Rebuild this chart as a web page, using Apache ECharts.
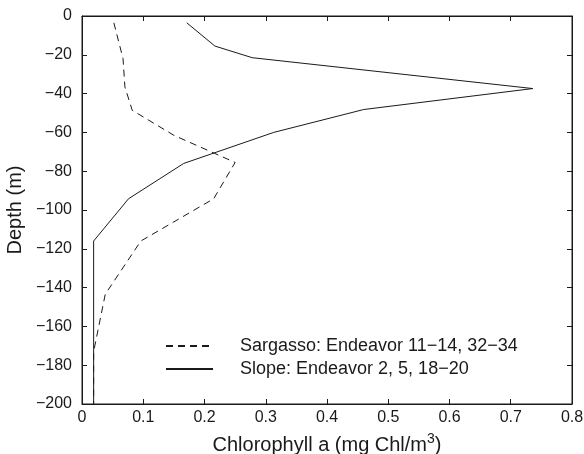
<!DOCTYPE html>
<html>
<head>
<meta charset="utf-8">
<script src="https://cdn.jsdelivr.net/npm/echarts@6/dist/echarts.min.js"></script>
<style>
  html, body { margin: 0; padding: 0; background: #fff; }
  #chart { width: 584px; height: 454px; }
</style>
</head>
<body>
<div id="chart"></div>
<script>
// Chlorophyll profiles, depth in metres (negative downward)
const sargassoDepth = [-3.5, -22, -36.5, -48.6, -61.5, -75.5, -94.2, -116, -143.4, -173, -200];
const sargassoChl   = [0.052, 0.067, 0.070, 0.082, 0.150, 0.250, 0.215, 0.096, 0.038, 0.019, 0.019];

const slopeDepth = [-3.5, -15.5, -21.5, -37.4, -48.2, -60, -76, -94.2, -116, -200];
const slopeChl   = [0.171, 0.217, 0.278, 0.736, 0.460, 0.313, 0.166, 0.076, 0.019, 0.019];

const seriesNames = ['Sargasso: Endeavor 11\u221214, 32\u221234', 'Slope: Endeavor 2, 5, 18\u221220'];

const xTicks = { min: 0, max: 0.8, interval: 0.1 };
const yTicks = { min: -200, max: 0, interval: 20 };

const FONT = 'Liberation Sans, Arial, Helvetica, sans-serif';
const INK = '#1a1a1a';

function pairs(xs, ys) { return xs.map((x, i) => [x, ys[i]]); }

// Unlabelled axis used to put inward ticks on the top and right frame edges
function mirrorAxis(position, range) {
  return {
    type: 'value', position: position, show: true,
    min: range.min, max: range.max, interval: range.interval,
    axisLine: { show: true, onZero: false, lineStyle: { color: INK, width: 1 } },
    axisTick: { show: true, inside: true, length: 5, lineStyle: { color: INK } },
    axisLabel: { show: false },
    splitLine: { show: false }
  };
}

const chart = echarts.init(document.getElementById('chart'), null, { renderer: 'canvas' });

chart.setOption({
  animation: false,
  backgroundColor: '#fff',
  grid: {
    left: 82, right: 12, top: 16, bottom: 50,
    containLabel: false, outerBoundsMode: 'none',
    show: true, borderColor: INK, borderWidth: 1, backgroundColor: 'transparent'
  },
  legend: {
    orient: 'vertical',
    left: 160,
    top: 332,
    itemWidth: 47,
    itemHeight: 14,
    itemGap: 5,
    itemStyle: { opacity: 0 },
    textStyle: { fontFamily: FONT, fontSize: 18, color: INK, padding: [0, 0, 0, 22] },
    data: seriesNames
  },
  xAxis: [
    {
      type: 'value', position: 'bottom',
      min: xTicks.min, max: xTicks.max, interval: xTicks.interval,
      name: '{t|Chlorophyll a (mg Chl/m}{s|3}{t|)}',
      nameLocation: 'middle', nameGap: 28,
      nameTextStyle: {
        rich: {
          t: { fontFamily: FONT, fontSize: 20, color: INK },
          s: { fontFamily: FONT, fontSize: 14, color: INK, padding: [0, 0, 12, 0] }
        }
      },
      axisLine: { show: true, onZero: false, lineStyle: { color: INK, width: 1 } },
      axisTick: { show: true, inside: true, length: 5, lineStyle: { color: INK } },
      axisLabel: {
        fontFamily: FONT, fontSize: 16, color: INK, margin: 6,
        formatter: v => String(+v.toFixed(1))
      },
      splitLine: { show: false }
    },
    mirrorAxis('top', xTicks)
  ],
  yAxis: [
    {
      type: 'value', position: 'left',
      min: yTicks.min, max: yTicks.max, interval: yTicks.interval,
      name: 'Depth (m)',
      nameLocation: 'middle', nameGap: 57, nameRotate: 90,
      nameTextStyle: { fontFamily: FONT, fontSize: 20, color: INK },
      axisLine: { show: true, onZero: false, lineStyle: { color: INK, width: 1 } },
      axisTick: { show: true, inside: true, length: 5, lineStyle: { color: INK } },
      axisLabel: {
        fontFamily: FONT, fontSize: 16, color: INK, margin: 10,
        formatter: v => String(v).replace('-', '\u2212')
      },
      splitLine: { show: false }
    },
    mirrorAxis('right', yTicks)
  ],
  series: [
    {
      name: seriesNames[0], type: 'line',
      data: pairs(sargassoChl, sargassoDepth),
      showSymbol: false, symbol: 'none',
      lineStyle: { color: INK, width: 1, type: [7, 5] },
      itemStyle: { color: INK },
      z: 2
    },
    {
      name: seriesNames[1], type: 'line',
      data: pairs(slopeChl, slopeDepth),
      showSymbol: false, symbol: 'none',
      lineStyle: { color: INK, width: 1 },
      itemStyle: { color: INK },
      z: 3
    }
  ]
});
</script>
</body>
</html>
